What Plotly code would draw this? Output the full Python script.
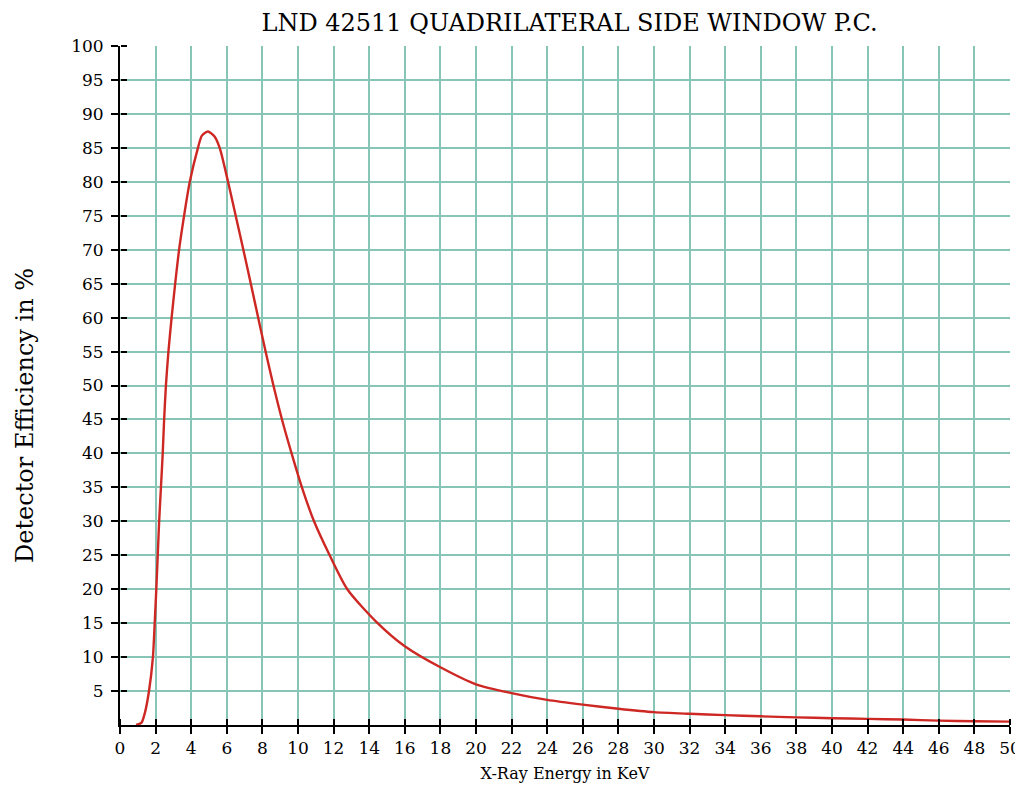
import plotly.graph_objects as go

energy_kev = [0.9, 1.2, 1.4, 1.63, 1.85, 1.95, 2.04, 2.12, 2.2, 2.3, 2.4, 2.48, 2.58,
              2.72, 2.9, 3.1, 3.32, 3.6, 3.92, 4.38, 4.6, 4.94, 5.3, 5.6, 6.07, 6.5, 6.93,
              7.35, 7.76, 8.18, 8.62, 9.1, 9.64, 10.22, 10.9, 11.78, 12.77, 14.4,
              16.0, 18, 20, 22, 24, 26, 28, 30, 32, 34, 36, 38, 40, 42, 44, 46, 48, 50]
efficiency_pct = [0, 0.3, 1.8, 5, 10, 15, 20, 25, 30, 35, 40, 45, 50,
                  55, 60, 65, 70, 75, 80, 85, 86.8, 87.4, 86.7, 85, 80, 75, 70,
                  65, 60, 55, 50, 45, 40, 35, 30, 25, 20, 15.2,
                  11.6, 8.5, 6.0, 4.7, 3.7, 3.0, 2.4, 1.9, 1.65, 1.45, 1.28, 1.12, 1.0, 0.9, 0.8, 0.65, 0.55, 0.5]

x_ticks = list(range(0, 51, 2))
y_ticks = list(range(5, 101, 5))

title_text = "LND 42511 QUADRILATERAL SIDE WINDOW P.C."
x_title = "X-Ray Energy in KeV"
y_title = "Detector Efficiency in %"

serif = "DejaVu Serif, Liberation Serif, serif"
grid_color = "rgb(135,198,182)"

fig = go.Figure()
fig.add_trace(go.Scatter(x=energy_kev, y=efficiency_pct, mode="lines",
                         line=dict(color="rgb(205,40,35)", width=2.4, shape="spline", smoothing=0.7),
                         hoverinfo="skip", showlegend=False))
fig.add_trace(go.Scatter(x=[0, 50], y=[0, 100], xaxis="x2", yaxis="y2", mode="markers",
                         marker=dict(opacity=0), hoverinfo="skip", showlegend=False))

fig.update_layout(
    template="none",
    width=1023, height=789,
    margin=dict(l=112, r=21, t=38, b=72),
    paper_bgcolor="white", plot_bgcolor="white",
    title=dict(text=title_text, x=0.549, xanchor="center", y=0.982, yanchor="middle",
               font=dict(family=serif, size=24, color="black")),
    xaxis=dict(range=[0, 50], tickvals=x_ticks, ticktext=[str(v) for v in x_ticks],
               showgrid=True, gridcolor=grid_color, gridwidth=1.5,
               showline=True, linecolor="black", linewidth=2,
               ticks="outside", ticklen=7, tickwidth=2, tickcolor="black",
               tickfont=dict(family=serif, size=17, color="black"),
               title=dict(text=x_title, font=dict(family=serif, size=16, color="black"), standoff=10),
               zeroline=False),
    yaxis=dict(range=[0, 100], tickvals=y_ticks, ticktext=[str(v) for v in y_ticks],
               showgrid=True, gridcolor=grid_color, gridwidth=1.5,
               showline=True, linecolor="black", linewidth=2,
               ticks="outside", ticklen=7, tickwidth=2, tickcolor="black",
               tickfont=dict(family=serif, size=17, color="black"), ticklabelstandoff=4,
               zeroline=False),
    xaxis2=dict(range=[0, 50], overlaying="x", anchor="free", position=0, side="top",
                tickvals=x_ticks, showticklabels=False, showgrid=False,
                showline=False, ticks="outside", ticklen=6, tickwidth=2, tickcolor="black",
                zeroline=False),
    yaxis2=dict(range=[0, 100], overlaying="y", anchor="free", position=0, side="right",
                tickvals=y_ticks, showticklabels=False, showgrid=False,
                showline=False, ticks="outside", ticklen=6, tickwidth=2, tickcolor="black",
                zeroline=False),
    annotations=[dict(text=y_title, textangle=-90, xref="paper", yref="paper",
                      x=-0.106, y=0.456, xanchor="center", yanchor="middle", showarrow=False,
                      font=dict(family=serif, size=24, color="black"))],
)

fig.write_html("out.html")
